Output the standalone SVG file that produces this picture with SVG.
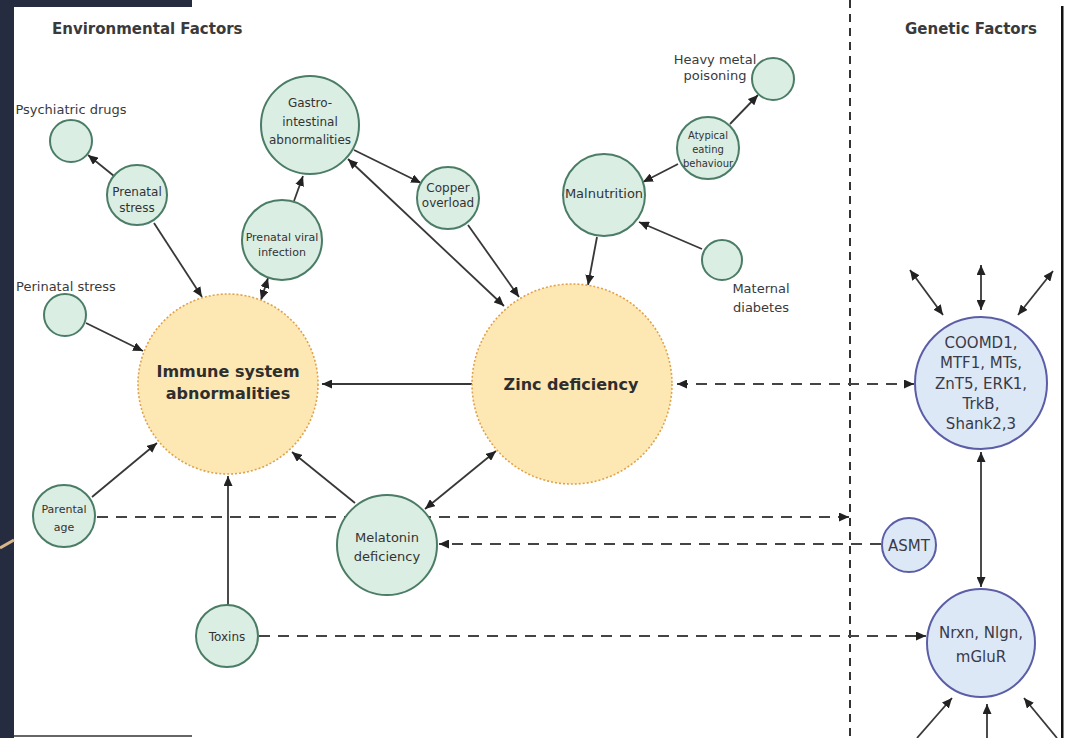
<svg xmlns="http://www.w3.org/2000/svg" width="1065" height="738" viewBox="0 0 1065 738">
<style>
.bg{fill:#ffffff}
.navy{fill:#262c3f}
.g circle{fill:#dbeee3;stroke:#4a7c66;stroke-width:2}
.o circle{fill:#fde8b4;stroke:#e0a24a;stroke-width:1.6;stroke-dasharray:2 2}
.b circle{fill:#dce8f6;stroke:#5b5ea6;stroke-width:2}
text{font-family:"DejaVu Sans","Liberation Sans",sans-serif;fill:#333;text-anchor:middle}
.head{font-weight:bold;font-size:15px;fill:#3a3a3a;text-anchor:start}
.lbl{font-size:13px;fill:#3a3a3a}
.big{font-weight:bold;font-size:16px;fill:#2e2e2e}
.gen{font-size:15px;fill:#3a3a48}
.ln{stroke:#383838;stroke-width:1.8;fill:none}
.dl{stroke:#444;stroke-width:2.2;stroke-dasharray:11 8;fill:none}
</style>
<defs>
<marker id="arr" markerUnits="userSpaceOnUse" markerWidth="11" markerHeight="9" refX="10" refY="4.5" orient="auto-start-reverse">
<path d="M0,0 L10,4.5 L0,9 z" fill="#222"/>
</marker>
</defs>
<rect class="bg" x="0" y="0" width="1065" height="738"/>
<rect class="navy" x="0" y="0" width="14" height="738"/>
<rect class="navy" x="0" y="0" width="192" height="7"/>
<rect x="1061" y="6" width="2.5" height="732" fill="#111"/>
<line x1="14" y1="736" x2="192" y2="736" stroke="#666" stroke-width="2"/>
<line x1="0" y1="548" x2="14" y2="540" stroke="#d9b58a" stroke-width="3"/>
<line x1="850" y1="0" x2="850" y2="738" stroke="#333" stroke-width="2" stroke-dasharray="8 6"/>
<text class="head" x="52" y="34">Environmental Factors</text>
<text class="head" x="905" y="34">Genetic Factors</text>

<g id="connectors">
<line class="ln" x1="114" y1="176" x2="88" y2="155" marker-end="url(#arr)"/>
<line class="ln" x1="154" y1="223" x2="202" y2="297" marker-end="url(#arr)"/>
<line class="ln" x1="86" y1="323" x2="143" y2="351" marker-end="url(#arr)"/>
<line class="ln" x1="268" y1="278" x2="261" y2="300" marker-start="url(#arr)" marker-end="url(#arr)"/>
<line class="ln" x1="294" y1="201" x2="303" y2="176" marker-end="url(#arr)"/>
<line class="ln" x1="348" y1="159" x2="504" y2="306" marker-start="url(#arr)" marker-end="url(#arr)"/>
<line class="ln" x1="354" y1="150" x2="421" y2="183" marker-end="url(#arr)"/>
<line class="ln" x1="468" y1="225" x2="519" y2="297" marker-end="url(#arr)"/>
<line class="ln" x1="597" y1="237" x2="588" y2="285" marker-end="url(#arr)"/>
<line class="ln" x1="678" y1="164" x2="643" y2="182" marker-end="url(#arr)"/>
<line class="ln" x1="730" y1="124" x2="758" y2="95" marker-end="url(#arr)"/>
<line class="ln" x1="702" y1="249" x2="639" y2="222" marker-end="url(#arr)"/>
<line class="ln" x1="472" y1="384" x2="322" y2="384" marker-end="url(#arr)"/>
<line class="ln" x1="425" y1="509" x2="496" y2="451" marker-start="url(#arr)" marker-end="url(#arr)"/>
<line class="ln" x1="355" y1="503" x2="292" y2="452" marker-end="url(#arr)"/>
<line class="ln" x1="92" y1="497" x2="157" y2="443" marker-end="url(#arr)"/>
<line class="ln" x1="228" y1="605" x2="228" y2="476" marker-end="url(#arr)"/>
<line class="ln" x1="981" y1="452" x2="981" y2="587" marker-start="url(#arr)" marker-end="url(#arr)"/>
<line class="ln" x1="910" y1="270" x2="943" y2="315" marker-start="url(#arr)" marker-end="url(#arr)"/>
<line class="ln" x1="981" y1="265" x2="981" y2="310" marker-start="url(#arr)" marker-end="url(#arr)"/>
<line class="ln" x1="1053" y1="271" x2="1018" y2="315" marker-start="url(#arr)" marker-end="url(#arr)"/>
<line class="ln" x1="917" y1="738" x2="952" y2="698" marker-end="url(#arr)"/>
<line class="ln" x1="987" y1="738" x2="987" y2="704" marker-end="url(#arr)"/>
<line class="ln" x1="1057" y1="738" x2="1024" y2="698" marker-end="url(#arr)"/>
<line class="dl" x1="677" y1="384" x2="914" y2="384" marker-start="url(#arr)" marker-end="url(#arr)"/>
<line class="dl" x1="97" y1="517" x2="849" y2="517" marker-end="url(#arr)"/>
<line class="dl" x1="881" y1="544" x2="439" y2="544" marker-end="url(#arr)"/>
<line class="dl" x1="259" y1="636" x2="926" y2="636" marker-end="url(#arr)"/>
</g>

<g id="psychiatric-drugs" class="g"><circle cx="71" cy="141" r="21"/><text class="lbl" x="71" y="114">Psychiatric drugs</text></g>
<g id="prenatal-stress" class="g"><circle cx="137" cy="195" r="30"/><text font-size="12" x="137" y="196">Prenatal</text><text font-size="12" x="137" y="212">stress</text></g>
<g id="gastro" class="g"><circle cx="310" cy="125" r="49"/><text font-size="12" x="310" y="107">Gastro-</text><text font-size="12" x="310" y="126">intestinal</text><text font-size="12" x="310" y="144">abnormalities</text></g>
<g id="prenatal-viral" class="g"><circle cx="282" cy="240" r="40"/><text font-size="11" x="282" y="241">Prenatal viral</text><text font-size="11" x="282" y="256">infection</text></g>
<g id="perinatal-stress" class="g"><circle cx="65" cy="315" r="21"/><text class="lbl" x="66" y="291">Perinatal stress</text></g>
<g id="immune" class="o"><circle cx="228" cy="384" r="90"/><text class="big" x="228" y="377">Immune system</text><text class="big" x="228" y="399">abnormalities</text></g>
<g id="parental-age" class="g"><circle cx="64" cy="516" r="31"/><text font-size="11" x="64" y="513">Parental</text><text font-size="11" x="64" y="531">age</text></g>
<g id="toxins" class="g"><circle cx="227" cy="636" r="31"/><text font-size="12" x="227" y="641">Toxins</text></g>
<g id="melatonin" class="g"><circle cx="387" cy="545" r="50"/><text font-size="13" x="387" y="542">Melatonin</text><text font-size="13" x="387" y="561">deficiency</text></g>
<g id="zinc" class="o"><circle cx="572" cy="384" r="100"/><text class="big" x="571" y="390">Zinc deficiency</text></g>
<g id="copper" class="g"><circle cx="448" cy="198" r="31"/><text font-size="12" x="448" y="192">Copper</text><text font-size="12" x="448" y="207">overload</text></g>
<g id="malnutrition" class="g"><circle cx="604" cy="195" r="41"/><text font-size="13" x="604" y="198">Malnutrition</text></g>
<g id="atypical-eating" class="g"><circle cx="708" cy="148" r="31"/><text font-size="10" x="708" y="139">Atypical</text><text font-size="10" x="708" y="153">eating</text><text font-size="10" x="708" y="167">behaviour</text></g>
<g id="heavy-metal" class="g"><circle cx="773" cy="79" r="21"/><text class="lbl" x="715" y="64">Heavy metal</text><text class="lbl" x="715" y="80">poisoning</text></g>
<g id="maternal-diabetes" class="g"><circle cx="722" cy="260" r="20"/><text class="lbl" x="761" y="293">Maternal</text><text class="lbl" x="761" y="312">diabetes</text></g>
<g id="coomd1" class="b"><circle cx="981" cy="383" r="66"/><text class="gen" x="981" y="348">COOMD1,</text><text class="gen" x="981" y="368">MTF1, MTs,</text><text class="gen" x="981" y="389">ZnT5, ERK1,</text><text class="gen" x="981" y="409">TrkB,</text><text class="gen" x="981" y="429">Shank2,3</text></g>
<g id="asmt" class="b"><circle cx="909" cy="545" r="27"/><text class="gen" font-size="16" x="909" y="551">ASMT</text></g>
<g id="nrxn" class="b"><circle cx="981" cy="643" r="54"/><text class="gen" x="981" y="638">Nrxn, Nlgn,</text><text class="gen" x="981" y="662">mGluR</text></g>
</svg>
